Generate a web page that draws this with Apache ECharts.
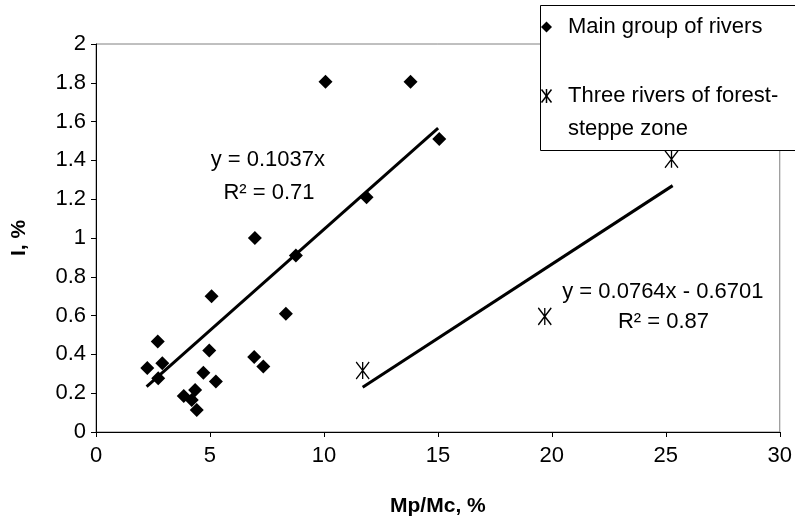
<!DOCTYPE html>
<html><head><meta charset="utf-8">
<script src="https://cdn.jsdelivr.net/npm/echarts@6/dist/echarts.min.js"></script>
<style>html,body{margin:0;padding:0;background:#fff}#c{width:795px;height:527px}</style>
</head><body><div id="c"></div>
<script>
// Main group of rivers (Mp/Mc %, I %)
const mainX = [2.25, 2.71, 2.73, 2.91, 3.85, 4.35, 4.2, 4.42, 4.71, 4.97, 5.07, 5.26, 6.94, 6.97, 7.34, 8.33, 8.77, 10.07, 11.87, 13.8, 15.06];
const mainY = [0.33, 0.467, 0.277, 0.355, 0.185, 0.217, 0.165, 0.114, 0.306, 0.42, 0.70, 0.26, 0.386, 1.00, 0.337, 0.61, 0.91, 1.805, 1.21, 1.805, 1.51];
// Three rivers of forest-steppe zone
const forestX = [11.7, 19.69, 25.25];
const forestY = [0.317, 0.596, 1.406];
// Trend line end points
const mainTrendX = [2.22, 15.01];
const mainTrendY = [0.234, 1.566];
const forestTrendX = [11.7, 25.3];
const forestTrendY = [0.231, 1.27];
// Equation texts
const mainEq = ['y = 0.1037x', 'R\u00b2 = 0.71'];
const forestEq = ['y = 0.0764x - 0.6701', 'R\u00b2 = 0.87'];
const seriesNames = ['Main group of rivers', 'Three rivers of forest-steppe zone'];
const legendTexts = ['Main group of rivers', 'Three rivers of forest-\nsteppe zone'];

const FONT = 'Liberation Sans, Arial, sans-serif';
const zip = (xs, ys) => xs.map((x, i) => [x, ys[i]]);
const starPath = 'path://M0 0L12 16M12 0L0 16M6 0L6 16';
const stroke = {stroke: '#000', lineWidth: 1.5};

const chart = echarts.init(document.getElementById('c'), null, {renderer: 'canvas'});
chart.setOption({
  animation: false,
  backgroundColor: '#fff',
  grid: {left: 96, right: 15, top: 44, bottom: 95, show: true, borderColor: '#808080', borderWidth: 1, backgroundColor: 'transparent'},
  xAxis: {
    type: 'value', min: 0, max: 30, interval: 5,
    name: 'Mp/Mc, %', nameLocation: 'middle', nameGap: 64,
    nameTextStyle: {fontFamily: FONT, fontSize: 21, fontWeight: 'bold', color: '#000'},
    axisLine: {lineStyle: {color: '#000', width: 1}},
    axisTick: {show: true, length: 5, lineStyle: {color: '#000'}},
    axisLabel: {fontFamily: FONT, fontSize: 22, color: '#000', margin: 13},
    splitLine: {show: false}
  },
  yAxis: {
    type: 'value', min: 0, max: 2, interval: 0.2,
    name: 'I, %', nameLocation: 'middle', nameGap: 66, nameRotate: 90,
    nameTextStyle: {fontFamily: FONT, fontSize: 21, fontWeight: 'bold', color: '#000'},
    axisLine: {show: true, lineStyle: {color: '#000', width: 1}},
    axisTick: {show: true, length: 5, lineStyle: {color: '#000'}},
    axisLabel: {fontFamily: FONT, fontSize: 22, color: '#000', margin: 10},
    splitLine: {show: false}
  },
  graphic: [{
    type: 'group', x: 540, y: 5, z: 100,
    children: [
      {type: 'rect', shape: {x: 0.5, y: 0.5, width: 280, height: 145}, style: {fill: '#fff', stroke: '#000', lineWidth: 1}},
      {type: 'polygon', shape: {points: [[6.5, 16.5], [12, 22], [6.5, 27.5], [1, 22]]}, style: {fill: '#000'}},
      {type: 'text', x: 28, y: 22, style: {text: legendTexts[0], font: '22px ' + FONT, fill: '#000', verticalAlign: 'middle'}},
      {type: 'line', shape: {x1: 1.5, y1: 84.5, x2: 11.5, y2: 97.5}, style: stroke},
      {type: 'line', shape: {x1: 11.5, y1: 84.5, x2: 1.5, y2: 97.5}, style: stroke},
      {type: 'line', shape: {x1: 6.5, y1: 84, x2: 6.5, y2: 98}, style: stroke},
      {type: 'text', x: 28, y: 91 - 16.5, style: {text: legendTexts[1], font: '22px ' + FONT, lineHeight: 33, fill: '#000', verticalAlign: 'top'}}
    ]
  }],
  series: [
    {
      name: seriesNames[0], type: 'scatter', symbol: 'diamond', symbolSize: 14,
      itemStyle: {color: '#000', opacity: 1}, z: 3,
      data: zip(mainX, mainY)
    },
    {
      name: seriesNames[1], type: 'scatter', symbol: starPath, symbolSize: [13, 17],
      itemStyle: {color: '#000', borderColor: '#000', borderWidth: 1.5, opacity: 1}, z: 3,
      data: zip(forestX, forestY)
    },
    {
      name: 'main trend', type: 'line', symbol: 'none', silent: true,
      lineStyle: {color: '#000', width: 3}, z: 2,
      data: zip(mainTrendX, mainTrendY),
      markPoint: {
        symbol: 'circle', symbolSize: 0, silent: true,
        label: {show: true, position: 'inside', formatter: p => p.name, fontFamily: FONT, fontSize: 22, color: '#000'},
        data: [
          {name: mainEq[0], coord: [7.54, 1.402]},
          {name: mainEq[1], coord: [7.59, 1.232]}
        ]
      }
    },
    {
      name: 'forest trend', type: 'line', symbol: 'none', silent: true,
      lineStyle: {color: '#000', width: 3}, z: 2,
      data: zip(forestTrendX, forestTrendY),
      markPoint: {
        symbol: 'circle', symbolSize: 0, silent: true,
        label: {show: true, position: 'inside', formatter: p => p.name, fontFamily: FONT, fontSize: 22, color: '#000'},
        data: [
          {name: forestEq[0], coord: [24.87, 0.722]},
          {name: forestEq[1], coord: [24.9, 0.567]}
        ]
      }
    }
  ]
});
</script>
</body></html>
